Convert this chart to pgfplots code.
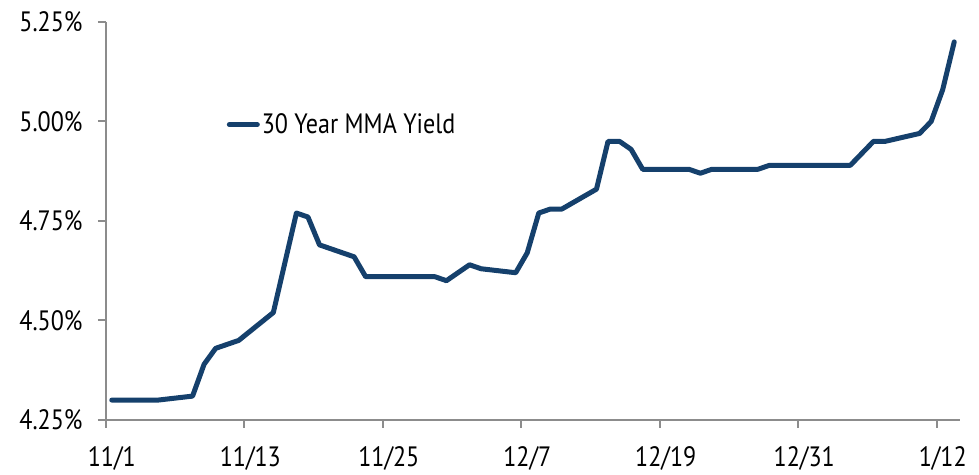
\documentclass[border=0pt]{standalone}
\usepackage{pgfplots}
\pgfplotsset{compat=1.18}
\usepackage{fontspec}
\setmainfont{PT Sans}[FakeStretch=0.86]
\definecolor{navy}{RGB}{21,64,108}
\definecolor{axgray}{RGB}{140,140,140}
\begin{document}
\begin{tikzpicture}
\begin{axis}[
  at={(0pt,0pt)}, anchor=south west,
  scale only axis,
  width=427pt, height=199pt,
  xmin=0, xmax=74,
  ymin=4.25, ymax=5.25,
  axis lines*=left,
  axis line style={axgray, line width=1pt},
  xtick={0,12,24,36,48,60,72},
  xticklabels={11/1,11/13,11/25,12/7,12/19,12/31,1/12},
  ytick={4.25,4.5,4.75,5,5.25},
  yticklabel={\pgfmathprintnumber[fixed,fixed zerofill,precision=2]{\tick}\%},
  /pgf/number format/assume math mode=true,
  tick style={axgray, line width=1pt},
  xtick align=outside, ytick align=outside,
  major tick length=4pt,
  tick label style={font=\fontsize{14}{16}\selectfont, text=black, inner sep=0pt},
  xticklabel style={anchor=north, yshift=-9pt, xshift=2.9pt},
  yticklabel style={anchor=east, xshift=-7.5pt},
  legend style={draw=none, fill=none, at={(rel axis cs:0.141,0.742)}, anchor=west,
    inner sep=0pt, font=\fontsize{14}{16}\selectfont,
    nodes={inner sep=1pt, anchor=west}},
  legend image code/.code={\draw[#1] (0pt,0pt) -- (14pt,0pt);},
  clip=false,
]
\addplot[navy, line width=2.5pt, line cap=round, line join=round] coordinates {
(0.5,4.30) (4.5,4.30) (7.5,4.31) (8.5,4.39) (9.5,4.43) (11.5,4.45)
(14.5,4.52) (15.5,4.645) (16.5,4.77) (17.5,4.76) (18.5,4.69) (21.5,4.66)
(22.5,4.61) (28.5,4.61) (29.5,4.60) (30.5,4.62) (31.5,4.64) (32.5,4.63)
(35.5,4.62) (36.5,4.67) (37.5,4.77) (38.5,4.78) (39.5,4.78) (42.5,4.83)
(43.5,4.95) (44.5,4.95) (45.5,4.93) (46.5,4.88) (50.5,4.88) (51.5,4.87)
(52.5,4.88) (56.5,4.88) (57.5,4.89) (64.5,4.89) (66.5,4.95) (67.5,4.95)
(70.5,4.97) (71.5,5.00) (72.5,5.08) (73.5,5.20)
};
\addlegendentry{30 Year MMA Yield}
\end{axis}
\pgfresetboundingbox
\path[use as bounding box] (-53pt,-27.5pt) rectangle (436.5pt,210pt);
\end{tikzpicture}
\end{document}
